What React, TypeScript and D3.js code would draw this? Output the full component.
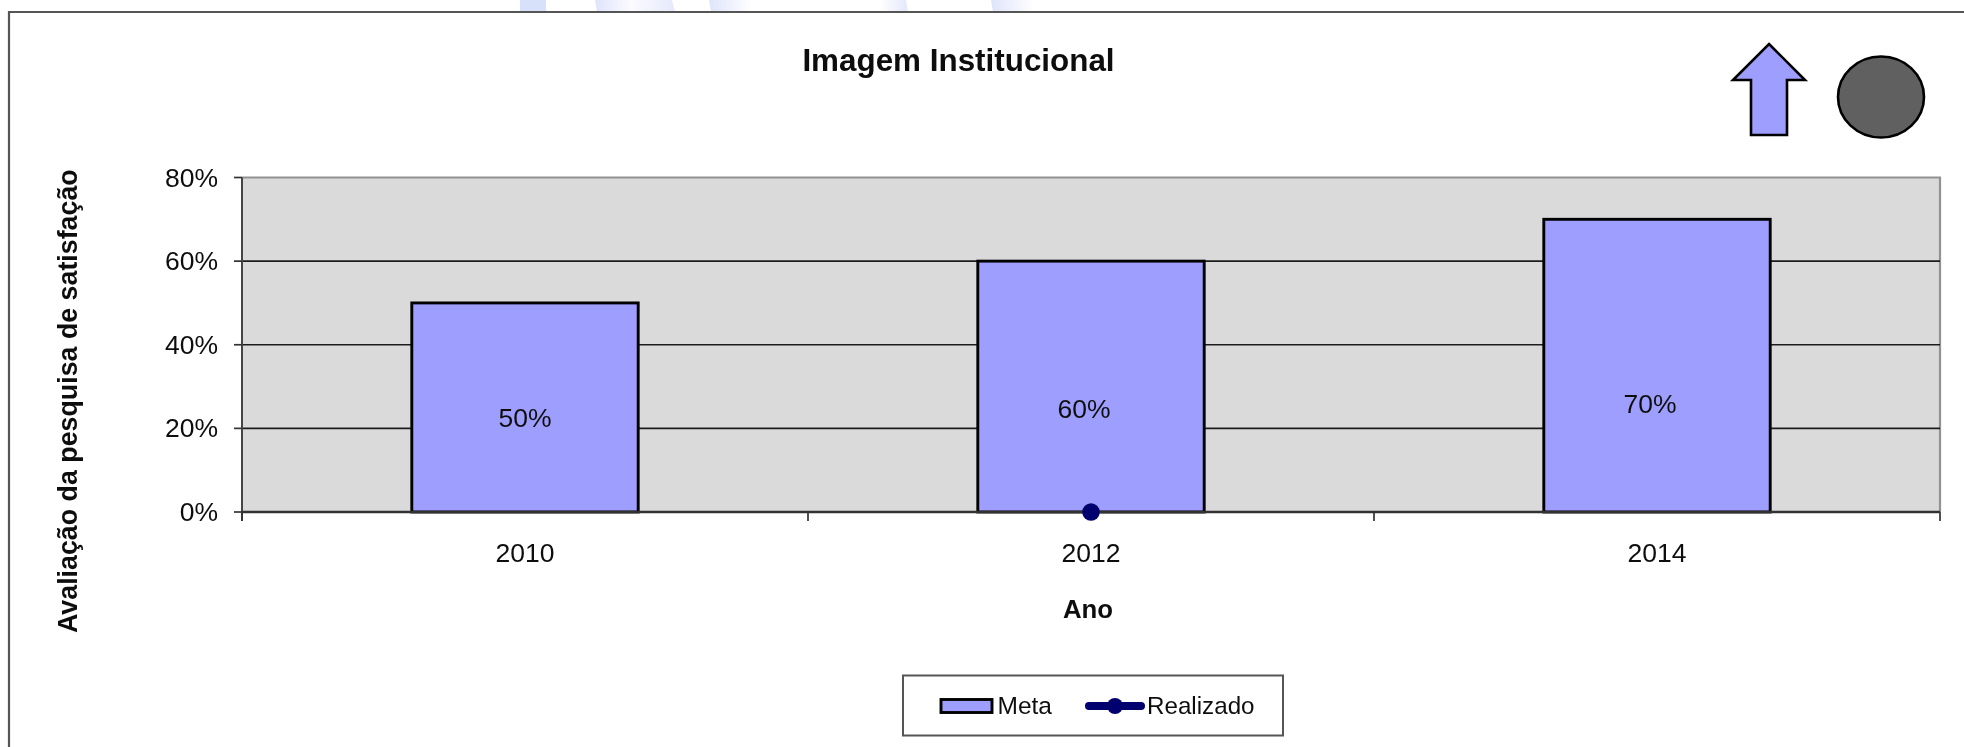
import React from "react";
import * as d3 from "d3";

const years = ["2010", "2012", "2014"];
const meta = [50, 60, 70];
const realizado = [null, 0, null];
const yTicks = [0, 20, 40, 60, 80];
const labelShift = [
  { dx: 0, dy: 10 },
  { dx: -7, dy: 21.5 },
  { dx: -7, dy: 37.5 },
];
const FONT = "'Liberation Sans', Arial, sans-serif";
const W = 1964;
const H = 747;
const m = { left: 242, right: 1940, top: 177.5, bottom: 512 };

export default function App() {
  const x = d3.scaleBand().domain(years).range([m.left, m.right]).paddingInner(0).paddingOuter(0);
  const y = d3.scaleLinear().domain([0, 80]).range([m.bottom, m.top]);
  const barW = x.bandwidth() * 0.4;
  const cx = (d: string) => (x(d) as number) + x.bandwidth() / 2;
  const xEdges = [...years.map((d) => x(d) as number), m.right];
  const pts = years.map((d, i) => ({ d, v: realizado[i] })).filter((p) => p.v !== null) as { d: string; v: number }[];
  const line = d3.line<{ d: string; v: number }>().x((p) => cx(p.d)).y((p) => y(p.v));
  return (
    <svg
      width={W}
      height={H}
      viewBox={`0 0 ${W} ${H}`}
      style={{ position: "fixed", left: 0, top: 0, background: "#fff", fontFamily: FONT }}
    >
      <defs>
        <filter id="soft" x="-5%" y="-5%" width="110%" height="110%">
          <feGaussianBlur stdDeviation="0.45" />
        </filter>
        <linearGradient id="wmA">
          <stop offset="0" stopColor="#dfe4fb" />
          <stop offset="0.45" stopColor="#fbfbff" />
          <stop offset="1" stopColor="#e6e9fc" />
        </linearGradient>
        <linearGradient id="wmB">
          <stop offset="0" stopColor="#dfe4fb" />
          <stop offset="1" stopColor="#ffffff" />
        </linearGradient>
        <linearGradient id="wmC">
          <stop offset="0" stopColor="#ffffff" />
          <stop offset="1" stopColor="#e3e7fb" />
        </linearGradient>
      </defs>
      <g>
        <rect x={520} y={0} width={26} height={12} fill="#d8e1fa" />
        <path d="M595 0 H672 L675 12 H597 Z" fill="url(#wmA)" />
        <path d="M709 0 H752 V12 H711 Z" fill="url(#wmB)" />
        <path d="M880 0 H906 L908 12 H880 Z" fill="url(#wmC)" />
        <path d="M991 0 H1034 V12 H993 Z" fill="url(#wmB)" />
      </g>
      <g filter="url(#soft)">
        <path d={`M9 ${H + 5} V12 H${W + 5}`} fill="none" stroke="#555" strokeWidth={2.2} />

        <text x={958.5} y={70.5} textAnchor="middle" fontSize={31.4} fontWeight={700} fill="#111">Imagem Institucional</text>

        {/* arrow and status circle */}
        <path d="M1769 44 L1805 80 H1787 V135 H1751 V80 H1733 Z" fill="#9e9eff" stroke="#000" strokeWidth={2.6} strokeLinejoin="miter" />
        <ellipse cx={1881} cy={97} rx={43} ry={40.5} fill="#606060" stroke="#000" strokeWidth={2.6} />

        {/* plot area */}
        <rect x={m.left} y={m.top} width={m.right - m.left} height={m.bottom - m.top} fill="#dadada" />
        <path d={`M${m.left} ${m.top} H${m.right} V${m.bottom}`} fill="none" stroke="#929292" strokeWidth={2.2} />
        {yTicks.filter((t) => t > 0 && t < 80).map((t) => (
          <line key={t} x1={m.left} x2={m.right} y1={y(t)} y2={y(t)} stroke="#1c1c1c" strokeWidth={1.7} />
        ))}

        {/* bars */}
        {years.map((d, i) => (
          <rect key={d} x={cx(d) - barW / 2} y={y(meta[i])} width={barW} height={y(0) - y(meta[i])} fill="#9e9eff" stroke="#000" strokeWidth={2.9} />
        ))}

        {/* axes */}
        <line x1={m.left} x2={m.left} y1={m.top} y2={m.bottom + 9} stroke="#444" strokeWidth={2} />
        <line x1={m.left} x2={m.right} y1={m.bottom} y2={m.bottom} stroke="#333" strokeWidth={2.4} />
        {yTicks.map((t) => (
          <g key={t}>
            <line x1={m.left - 8} x2={m.left} y1={y(t)} y2={y(t)} stroke="#333" strokeWidth={1.7} />
            <text x={218} y={y(t) + 9} textAnchor="end" fontSize={26.5} fill="#111">{t}%</text>
          </g>
        ))}
        {xEdges.map((e) => (
          <line key={e} x1={e} x2={e} y1={m.bottom} y2={m.bottom + 9} stroke="#333" strokeWidth={1.7} />
        ))}
        {years.map((d) => (
          <text key={d} x={cx(d)} y={562} textAnchor="middle" fontSize={26.5} fill="#111">{d}</text>
        ))}

        {/* data labels */}
        {years.map((d, i) => (
          <text key={d} x={cx(d) + labelShift[i].dx} y={(y(meta[i]) + y(0)) / 2 + 9.5 + labelShift[i].dy} textAnchor="middle" fontSize={26.5} fill="#111">
            {meta[i]}%
          </text>
        ))}

        {/* Realizado series */}
        <path d={line(pts) ?? ""} fill="none" stroke="#00006e" strokeWidth={7} />
        {pts.map((p) => (
          <circle key={p.d} cx={cx(p.d)} cy={y(p.v)} r={8.7} fill="#00006e" />
        ))}

        {/* axis titles */}
        <text x={1088} y={618} textAnchor="middle" fontSize={25.8} fontWeight={700} fill="#111">Ano</text>
        <text transform="translate(77,633) rotate(-90)" fontSize={26.8} fontWeight={700} fill="#111">Avaliação da pesquisa de satisfação</text>

        {/* legend */}
        <rect x={903} y={675.5} width={380} height={60} fill="#fff" stroke="#555" strokeWidth={2} />
        <rect x={941} y={699.5} width={51} height={13} fill="#9e9eff" stroke="#000" strokeWidth={2.9} />
        <text x={997.5} y={714} fontSize={24.5} fill="#111">Meta</text>
        <line x1={1089} x2={1141} y1={706} y2={706} stroke="#00006e" strokeWidth={8} strokeLinecap="round" />
        <circle cx={1115} cy={706} r={8} fill="#00006e" />
        <text x={1147} y={714} fontSize={24.2} fill="#111">Realizado</text>
      </g>
    </svg>
  );
}
